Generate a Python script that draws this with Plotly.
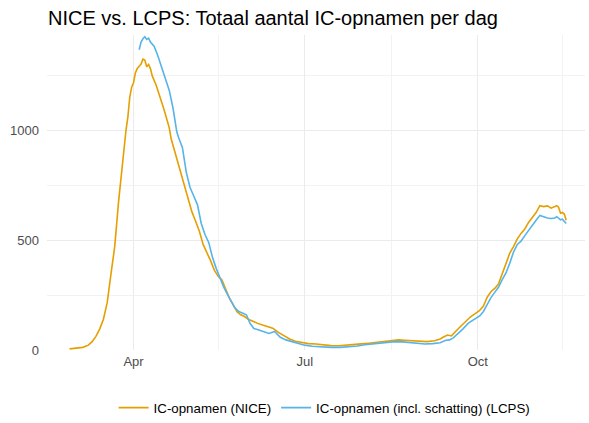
import pandas as pd
import plotly.graph_objects as go

# NICE: total IC admissions per day
nice_dates = [
    "2020-02-27", "2020-03-02", "2020-03-05", "2020-03-08", "2020-03-10", "2020-03-12",
    "2020-03-14", "2020-03-16", "2020-03-18", "2020-03-20", "2020-03-22", "2020-03-24",
    "2020-03-26", "2020-03-28", "2020-03-29", "2020-03-30", "2020-03-31", "2020-04-01",
    "2020-04-02", "2020-04-03", "2020-04-04", "2020-04-05", "2020-04-06", "2020-04-07",
    "2020-04-08", "2020-04-09", "2020-04-10", "2020-04-11", "2020-04-13", "2020-04-14",
    "2020-04-16", "2020-04-17", "2020-04-19", "2020-04-20", "2020-04-21", "2020-04-23",
    "2020-04-24", "2020-04-26", "2020-04-28", "2020-04-30", "2020-05-02", "2020-05-04",
    "2020-05-06", "2020-05-08", "2020-05-10", "2020-05-12", "2020-05-14", "2020-05-16",
    "2020-05-18", "2020-05-20", "2020-05-22", "2020-05-24", "2020-05-26", "2020-05-28",
    "2020-05-30", "2020-06-01", "2020-06-04", "2020-06-06", "2020-06-09", "2020-06-12",
    "2020-06-14", "2020-06-17", "2020-06-20", "2020-06-23", "2020-06-26", "2020-06-29",
    "2020-07-03", "2020-07-07", "2020-07-11", "2020-07-15", "2020-07-19", "2020-07-23",
    "2020-07-27", "2020-07-31", "2020-08-04", "2020-08-08", "2020-08-12", "2020-08-16",
    "2020-08-20", "2020-08-23", "2020-08-27", "2020-08-31", "2020-09-04", "2020-09-08",
    "2020-09-11", "2020-09-13", "2020-09-15", "2020-09-17", "2020-09-19", "2020-09-21",
    "2020-09-24", "2020-09-27", "2020-09-30", "2020-10-02", "2020-10-04", "2020-10-06",
    "2020-10-08", "2020-10-10", "2020-10-12", "2020-10-14", "2020-10-16", "2020-10-18",
    "2020-10-20", "2020-10-22", "2020-10-24", "2020-10-26", "2020-10-28", "2020-10-30",
    "2020-11-01", "2020-11-03", "2020-11-05", "2020-11-07", "2020-11-09", "2020-11-11",
    "2020-11-12", "2020-11-13", "2020-11-14", "2020-11-15", "2020-11-16", "2020-11-17",
]
nice_values = [
    5, 9, 12, 22, 38, 62,
    95, 140, 215, 345, 470, 670,
    850, 1000, 1060, 1150, 1195, 1215,
    1260, 1280, 1290, 1300, 1322, 1318,
    1288, 1298, 1278, 1245, 1205, 1175,
    1125, 1099, 1040, 1010, 960, 900,
    871, 820, 760, 700, 629, 585,
    540, 480, 445, 405, 362, 335,
    318, 275, 235, 205, 174, 160,
    152, 140, 128, 121, 112, 104,
    99, 80, 64, 50, 40, 34,
    29, 27, 23, 20, 19, 21,
    25, 28, 31, 35, 40, 43,
    46, 44, 41, 39, 38, 42,
    50, 60, 68, 64, 80, 100,
    125, 150, 168, 180, 200, 240,
    265, 280, 300, 345, 392, 440,
    470, 505, 530, 550, 580, 600,
    625, 656, 652, 655, 645, 652,
    656, 648, 622, 625, 618, 590,
]

# LCPS: IC admissions incl. estimate
lcps_dates = [
    "2020-04-04", "2020-04-05", "2020-04-06", "2020-04-07", "2020-04-08", "2020-04-09",
    "2020-04-10", "2020-04-11", "2020-04-12", "2020-04-14", "2020-04-16", "2020-04-18",
    "2020-04-20", "2020-04-22", "2020-04-23", "2020-04-24", "2020-04-25", "2020-04-27",
    "2020-04-29", "2020-05-01", "2020-05-03", "2020-05-05", "2020-05-07", "2020-05-09",
    "2020-05-11", "2020-05-13", "2020-05-15", "2020-05-17", "2020-05-19", "2020-05-21",
    "2020-05-23", "2020-05-25", "2020-05-27", "2020-05-29", "2020-05-31", "2020-06-02",
    "2020-06-04", "2020-06-07", "2020-06-10", "2020-06-12", "2020-06-15", "2020-06-18",
    "2020-06-21", "2020-06-24", "2020-06-27", "2020-07-01", "2020-07-05", "2020-07-10",
    "2020-07-15", "2020-07-20", "2020-07-25", "2020-07-29", "2020-08-02", "2020-08-06",
    "2020-08-10", "2020-08-14", "2020-08-18", "2020-08-22", "2020-08-26", "2020-08-30",
    "2020-09-03", "2020-09-07", "2020-09-11", "2020-09-14", "2020-09-16", "2020-09-18",
    "2020-09-20", "2020-09-23", "2020-09-26", "2020-09-29", "2020-10-02", "2020-10-04",
    "2020-10-06", "2020-10-08", "2020-10-10", "2020-10-12", "2020-10-14", "2020-10-16",
    "2020-10-18", "2020-10-20", "2020-10-22", "2020-10-24", "2020-10-26", "2020-10-28",
    "2020-10-30", "2020-11-01", "2020-11-03", "2020-11-05", "2020-11-07", "2020-11-09",
    "2020-11-11", "2020-11-12", "2020-11-13", "2020-11-14", "2020-11-15", "2020-11-16",
    "2020-11-17",
]
lcps_values = [
    1365, 1400, 1415, 1424, 1412, 1418,
    1400, 1392, 1380, 1335, 1285, 1235,
    1180, 1099, 1040, 992, 965, 920,
    810, 740, 700, 660, 575, 525,
    488, 420, 370, 325, 285, 252,
    222, 190, 175, 168, 160, 120,
    98, 90, 80, 75, 84, 58,
    46, 38, 30, 22, 17, 14,
    12, 12, 14, 18, 24, 28,
    33, 36, 38, 37, 34, 30,
    27, 29, 33, 44, 46, 55,
    70, 95, 122, 140, 155, 175,
    210, 238, 262, 285, 320, 350,
    395, 445, 480, 495, 520, 545,
    570, 590, 612, 605, 600, 598,
    600, 606, 598, 592, 595, 582,
    575,
]

FONT = "Liberation Sans, Arial, sans-serif"
GRID = "#EBEBEB"

fig = go.Figure()
fig.add_trace(go.Scatter(
    x=pd.to_datetime(nice_dates), y=nice_values, mode="lines",
    name="IC-opnamen (NICE)", line=dict(color="#E69F00", width=1.6),
))
fig.add_trace(go.Scatter(
    x=pd.to_datetime(lcps_dates), y=lcps_values, mode="lines",
    name="IC-opnamen (incl. schatting) (LCPS)", line=dict(color="#56B4E9", width=1.6),
))

fig.update_layout(
    width=589, height=423,
    margin=dict(l=47, r=4, t=35, b=73, autoexpand=False),
    paper_bgcolor="white", plot_bgcolor="white",
    font=dict(family=FONT, size=13, color="#4D4D4D"),
    title=dict(
        text="NICE vs. LCPS: Totaal aantal IC-opnamen per dag",
        x=48 / 589, xanchor="left", y=1 - 18 / 423, yanchor="middle",
        font=dict(family=FONT, size=20, color="black"),
    ),
    xaxis=dict(
        range=["2020-02-15", "2020-11-27"],
        tickvals=["2020-04-01", "2020-07-01", "2020-10-01"],
        tickformat="%b", showline=False, zeroline=False, automargin=False,
        showgrid=True, gridcolor=GRID, gridwidth=1.1,
        ticks="", ticklabelstandoff=2,
        minor=dict(tickvals=["2020-02-15", "2020-05-16", "2020-08-16", "2020-11-15"],
                   showgrid=True, gridcolor="#F2F2F2", gridwidth=0.6),
        tickfont=dict(size=13, color="#4D4D4D"),
    ),
    yaxis=dict(
        range=[0, 1432],
        tickvals=[0, 500, 1000],
        showline=False, zeroline=False, automargin=False,
        showgrid=True, gridcolor=GRID, gridwidth=1.1,
        ticks="", ticklabelstandoff=7,
        minor=dict(tickvals=[250, 750, 1250],
                   showgrid=True, gridcolor="#F2F2F2", gridwidth=0.6),
        tickfont=dict(size=13, color="#4D4D4D"),
    ),
    legend=dict(
        orientation="h", x=0.516, xanchor="center", y=-0.184, yanchor="middle",
        font=dict(family=FONT, size=13.3, color="black"),
        itemwidth=30, bgcolor="rgba(0,0,0,0)",
    ),
    hovermode=False,
)

# page default body margin would shift the figure by 8px
fig.write_html(
    "out.html",
    config={"displayModeBar": False},
    post_script="document.body.style.margin='0';",
)
